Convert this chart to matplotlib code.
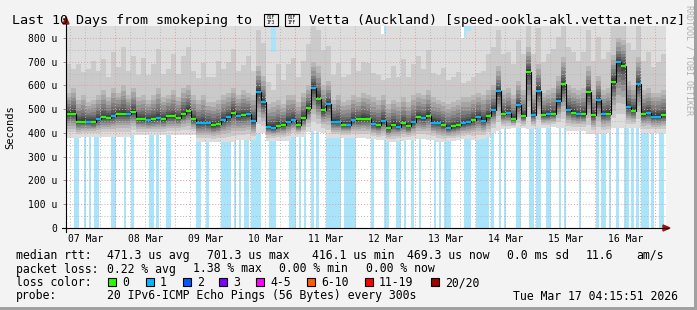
import numpy as np
import matplotlib
matplotlib.use("Agg")
import matplotlib.pyplot as plt
from matplotlib.patches import Rectangle, Polygon
from matplotlib.lines import Line2D

W, H = 697, 310

# 120 steps of 2 hours, starting Sat Mar 07 04:15:51 (values in microseconds)
median = [482, 482, 447, 447, 447, 445, 457, 467, 465, 470, 481, 481, 480, 490, 460, 458, 455, 459, 462, 458,
          470, 470, 465, 480, 494, 458, 440, 443, 440, 432, 438, 455, 466, 486, 472, 475, 478, 450, 574, 530,
          425, 422, 430, 433, 448, 455, 432, 463, 505, 590, 545, 495, 520, 448, 446, 435, 434, 455, 457, 460,
          460, 437, 432, 450, 420, 435, 427, 442, 428, 446, 467, 462, 473, 444, 444, 434, 420, 428, 432, 440,
          445, 455, 468, 452, 470, 495, 575, 480, 484, 460, 518, 470, 658, 476, 578, 475, 478, 478, 536, 605,
          497, 486, 478, 479, 571, 475, 539, 479, 482, 616, 700, 684, 509, 494, 605, 480, 485, 469, 469, 475]

# lost pings per step (0 -> green, 1 -> blue)
median_loss = [0, 0, 0, 0, 1, 0, 1, 0, 0, 1, 0, 0, 1, 0, 0, 0, 1, 0, 1, 0,
               0, 0, 0, 0, 0, 0, 1, 1, 1, 0, 0, 1, 1, 0, 1, 0, 1, 1, 1, 1,
               1, 1, 0, 0, 1, 1, 0, 0, 0, 1, 0, 0, 1, 1, 1, 0, 1, 1, 0, 0,
               0, 1, 0, 1, 0, 0, 1, 0, 0, 1, 0, 1, 0, 1, 1, 0, 1, 0, 0, 1,
               1, 0, 1, 1, 0, 1, 1, 0, 1, 0, 1, 0, 0, 1, 1, 0, 1, 0, 1, 0,
               1, 0, 1, 0, 0, 0, 1, 1, 0, 0, 1, 0, 1, 0, 1, 0, 1, 1, 1, 0]

# fastest ping per step
smoke_lo = [380, 380, 380, 385, 385, 385, 385, 385, 385, 385, 385, 385, 385, 390, 390, 390, 390, 390, 390, 390,
            392, 392, 392, 392, 392, 392, 360, 360, 360, 360, 360, 360, 360, 360, 370, 370, 370, 370, 400, 400,
            368, 368, 368, 368, 368, 385, 385, 385, 405, 410, 405, 400, 380, 380, 380, 380, 380, 380, 380, 380,
            375, 375, 370, 370, 360, 360, 365, 365, 370, 370, 375, 375, 370, 370, 360, 360, 365, 365, 370, 375,
            375, 370, 370, 375, 385, 400, 410, 415, 415, 420, 420, 420, 415, 415, 420, 420, 420, 425, 420, 420,
            410, 410, 410, 410, 395, 395, 395, 395, 400, 420, 420, 420, 420, 420, 420, 400, 400, 400, 400, 400]

# upper part of the smoke (18th of 20 pings)
smoke_up = [570, 590, 540, 560, 530, 540, 560, 580, 550, 590, 570, 600, 560, 590, 550, 560, 540, 560, 590, 550,
            560, 580, 550, 590, 600, 560, 540, 560, 530, 530, 540, 560, 570, 590, 560, 580, 570, 560, 680, 640,
            520, 530, 540, 520, 560, 560, 530, 570, 600, 700, 680, 600, 620, 540, 560, 530, 540, 560, 550, 570,
            560, 550, 540, 560, 520, 540, 530, 550, 530, 560, 570, 560, 580, 550, 540, 530, 520, 530, 540, 550,
            550, 560, 570, 560, 580, 600, 680, 580, 590, 560, 620, 580, 760, 580, 690, 570, 580, 590, 640, 720,
            600, 590, 580, 590, 680, 580, 640, 580, 590, 730, 800, 790, 620, 600, 720, 580, 590, 570, 570, 580]

# slowest ping per step
smoke_top = [1060, 900, 1150, 940, 1080, 1200, 960, 1100, 900, 1190, 1000, 1250, 960, 1120, 920, 1180, 960, 1080, 1250, 950,
             1000, 1190, 950, 1120, 1250, 960, 900, 1100, 950, 960, 1200, 1000, 1080, 1250, 960, 1000, 1190, 960, 1300, 1200,
             900, 740, 1150, 940, 1080, 1190, 960, 1100, 1300, 1300, 1300, 1190, 1200, 960, 1100, 950, 960, 1190, 1000, 1080,
             1100, 960, 950, 815, 960, 1100, 950, 1190, 960, 1080, 1190, 1000, 1250, 960, 950, 1100, 940, 960, 1000, 800,
             830, 860, 900, 960, 1190, 1250, 1300, 1190, 1200, 1080, 1300, 1190, 1300, 1190, 1300, 1080, 1190, 1250, 1300, 1300,
             1250, 1190, 1080, 1190, 1300, 1080, 1300, 1100, 1190, 1300, 1300, 1300, 1250, 1190, 1300, 1080, 1190, 1000, 1080, 1190]

# hours (from start) with packet loss
loss_hours = [3, 4, 7, 9, 11, 12, 18, 19, 23, 26, 33, 34, 36, 40, 41, 52, 53, 56, 62, 63, 64, 65, 67, 69, 71,
              72, 74, 75, 76, 77, 81, 82, 83, 89, 90, 91, 93, 95, 98, 100, 104, 105, 106, 107, 108, 109, 111,
              112, 113, 114, 115, 122, 127, 128, 132, 133, 135, 138, 141, 147, 149, 151, 152, 153, 159, 160,
              161, 164, 165, 166, 167, 168, 170, 173, 175, 180, 181, 185, 186, 188, 189, 192, 193, 197, 199,
              205, 212, 214, 215, 217, 220, 223, 224, 226, 228, 230, 231, 232, 234, 237, 238]

day_labels = ["07 Mar", "08 Mar", "09 Mar", "10 Mar", "11 Mar", "12 Mar", "13 Mar", "14 Mar", "15 Mar", "16 Mar"]
loss_labels = ["0", "1", "2", "3", "4-5", "6-10", "11-19", "20/20"]
loss_colors = ["#26ff00", "#00b8ff", "#0059ff", "#7e00ff", "#ff00ff", "#ff5e00", "#ff0000", "#a10000"]
# the flag (regional indicators N, Z) has no glyph in any installed font: drawn as hex boxes
flag_codes = ["01F\n1F3", "01F\n1FF"]

MONO = "DejaVu Sans Mono"
BG = "#f3f3f3"


def fx(x):
    return x / W


def fy(y):
    return 1 - y / H


fig = plt.figure(figsize=(W / 100, H / 100), dpi=100, facecolor=BG)
ax = fig.add_axes([fx(66), fy(228), 600 / W, (228 - 26.1) / H])
ax.set_facecolor("white")

n = len(median)
edges = np.arange(n + 1) * 2.0
med = np.array(median, float)
lo = np.array(smoke_lo, float)
up = np.array(smoke_up, float)
top = np.array(smoke_top, float)

# loss background bars
ax.bar(loss_hours, 900, width=1.0, align="edge", color="#aae4fa", linewidth=0,
       zorder=0.5, antialiased=False)

# smoke: 20 sorted pings per step
d_lo = [1.0, 0.78, 0.62, 0.5, 0.4, 0.31, 0.23, 0.15, 0.08, 0.03]
d_up = [0.05, 0.13, 0.22, 0.33, 0.47, 0.63, 0.81, 1.0]
pings = [med - (med - lo) * f for f in d_lo]
pings += [med + (up - med) * f for f in d_up]
pings += [up + (top - up) * 0.25, top]
for k in range(19):
    dist = abs(k + 1 - 10)
    g = (50 + 190 * dist / 10) / 255
    ax.stairs(pings[k + 1], edges, baseline=pings[k], fill=True, color=(g, g, g),
              linewidth=0, zorder=1, antialiased=False)

# grid
start = 4 + 15 / 60 + 51 / 3600
for v in range(50, 850, 50):
    c = "#e39a9a" if v % 100 == 0 else "#b8b8b8"
    ax.axhline(v, color=c, lw=0.7, ls=(0, (1, 2)), zorder=2.5)
h = 6 - start % 6
while h < 240:
    midnight = abs((h + start) % 24) < 0.01
    ax.axvline(h, color="#e39a9a" if midnight else "#b8b8b8", lw=0.7, ls=(0, (1, 2)), zorder=2.5)
    h += 6

# median
ax.stairs(med, edges, baseline=None, color="black", lw=0.8, zorder=3)
ax.hlines(med, edges[:-1], edges[1:], colors=[loss_colors[l] for l in median_loss], lw=1.6, zorder=4)

ax.set_xlim(0, 240)
ax.set_ylim(0, 850)
for s in ax.spines.values():
    s.set_visible(False)
ax.set_yticks(range(0, 900, 100))
ax.set_yticklabels(["0"] + ["%d u" % v for v in range(100, 900, 100)], fontfamily=MONO, fontsize=7)
ax.set_xticks([12 - start + 24 * i for i in range(10)])
ax.set_xticklabels(day_labels, fontfamily=MONO, fontsize=7)
ax.tick_params(axis="x", length=0, pad=4)
ax.tick_params(axis="y", length=2, width=0.6, color="#808080", pad=4)

# axes lines and arrows
fig.add_artist(Line2D([fx(62), fx(668)], [fy(228), fy(228)], color="black", lw=0.8))
fig.add_artist(Line2D([fx(66), fx(66)], [fy(232), fy(24)], color="black", lw=0.8))
fig.add_artist(Polygon([(fx(663), fy(225)), (fx(663), fy(231)), (fx(670), fy(228))],
                       closed=True, color="#a01010", transform=fig.transFigure))
fig.add_artist(Polygon([(fx(63), fy(24)), (fx(69), fy(24)), (fx(66), fy(17))],
                       closed=True, color="#a01010", transform=fig.transFigure))

# title
fig.text(fx(12), fy(24), "Last 10 Days from smokeping to", fontfamily=MONO, fontsize=9.6, va="baseline")
for bx, code in zip([264, 285], flag_codes):
    fig.add_artist(Rectangle((fx(bx), fy(26)), 14 / W, 12 / H, facecolor="none", edgecolor="black",
                             lw=0.8, transform=fig.transFigure))
    fig.text(fx(bx + 7), fy(20), code, fontfamily=MONO, fontsize=3.3, ha="center", va="center",
             linespacing=1.0)
fig.text(fx(301), fy(24), " Vetta (Auckland) [speed-ookla-akl.vetta.net.nz]", fontfamily=MONO,
         fontsize=9.6, va="baseline")

fig.text(fx(10), fy(127), "Seconds", rotation=90, fontfamily=MONO, fontsize=7.5, ha="center", va="center")
fig.text(fx(689), fy(5), "RRDTOOL / TOBI OETIKER", rotation=270, fontfamily=MONO, fontsize=6,
         color="#b0b0b0", ha="center", va="top")

rows = [
    (259, [(16, "median rtt:"), (107, "471.3 us avg"), (207, "701.3 us max"), (312, "416.1 us min"),
           (407, "469.3 us now"), (507, "0.0 ms sd"), (586, "11.6"), (636, "am/s")]),
    (272.5, [(16, "packet loss:"), (107, "0.22 % avg"), (193, "1.38 % max"), (279, "0.00 % min"),
             (366, "0.00 % now")]),
    (286, [(16, "loss color:")]),
    (299.5, [(16, "probe:"), (107, "20 IPv6-ICMP Echo Pings (56 Bytes) every 300s"),
             (513, "Tue Mar 17 04:15:51 2026")]),
]
for y, items in rows:
    for x, s in items:
        fig.text(fx(x), fy(y), s, fontfamily=MONO, fontsize=8.3, va="baseline")

box_x = [108, 146, 183, 219, 256, 307, 365, 431]
for bx, lab, col in zip(box_x, loss_labels, loss_colors):
    fig.add_artist(Rectangle((fx(bx), fy(286)), 8 / W, 8 / H, facecolor=col, edgecolor="black",
                             lw=0.8, transform=fig.transFigure))
    fig.text(fx(bx + 14), fy(286), lab, fontfamily=MONO, fontsize=8.3, va="baseline")

# frame
fig.add_artist(Rectangle((fx(694), 0), 3 / W, 1, facecolor="#a0a0a0", lw=0, transform=fig.transFigure))
fig.add_artist(Rectangle((0, 0), 1, 3 / H, facecolor="#a0a0a0", lw=0, transform=fig.transFigure))

fig.savefig("out.png", dpi=100, facecolor=BG)
